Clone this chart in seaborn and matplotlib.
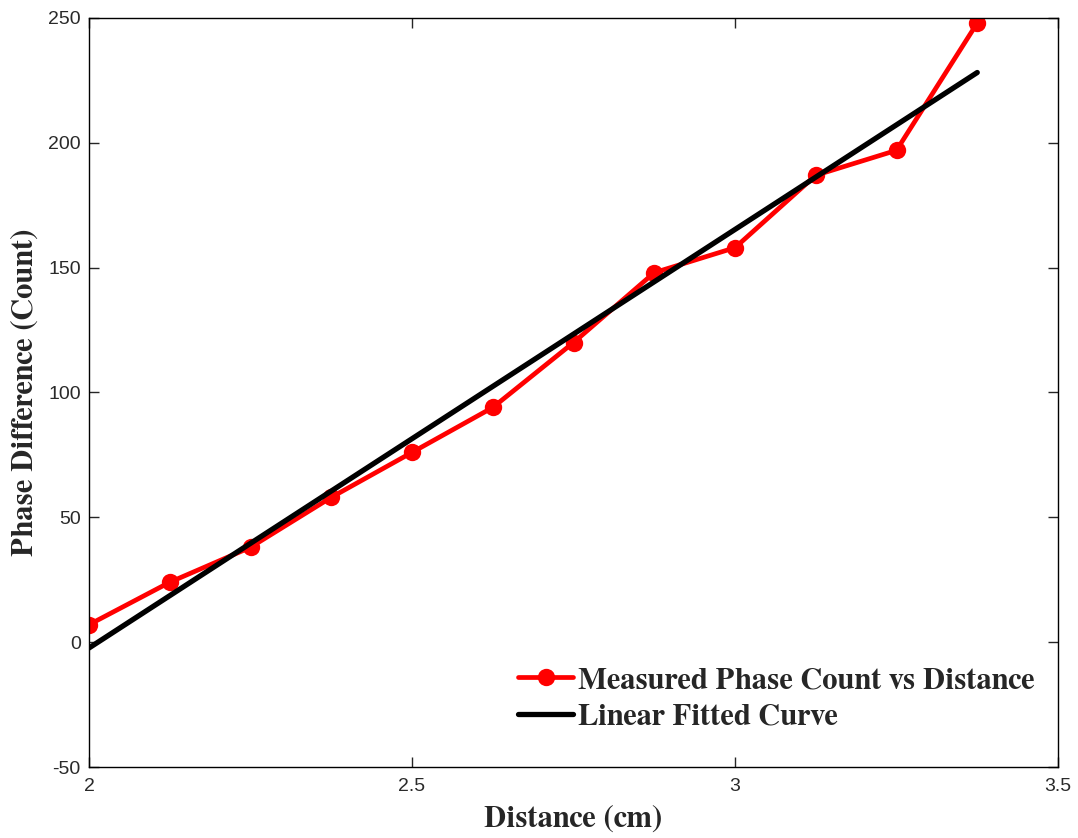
import numpy as np
import pandas as pd
import matplotlib
matplotlib.use("Agg")
import matplotlib.pyplot as plt
import seaborn as sns

distance = [2.0, 2.125, 2.25, 2.375, 2.5, 2.625, 2.75, 2.875, 3.0, 3.125, 3.25, 3.375]
phase_count = [7, 24, 38, 58, 76, 94, 120, 148, 158, 187, 197, 248]
x_ticks = [2, 2.5, 3, 3.5]
y_ticks = [-50, 0, 50, 100, 150, 200, 250]
x_tick_labels = ["2", "2.5", "3", "3.5"]
y_tick_labels = ["-50", "0", "50", "100", "150", "200", "250"]

sns.set_theme(style="ticks")
plt.rcParams.update({
    "xtick.direction": "in", "ytick.direction": "in",
    "xtick.top": True, "ytick.right": True,
    "xtick.major.size": 7, "ytick.major.size": 7,
    "xtick.major.width": 1, "ytick.major.width": 1,
    "axes.linewidth": 1.0,
})

df = pd.DataFrame({"Distance": distance, "Phase": phase_count})
coef = np.polyfit(distance, phase_count, 1)
df["Fit"] = np.polyval(coef, df["Distance"])

fig = plt.figure(figsize=(10.78, 8.38), dpi=100)
ax = fig.add_axes([89/1078, 1-767/838, (1058-89)/1078, (767-18)/838])

sns.lineplot(data=df, x="Distance", y="Phase", ax=ax, color="#ff0000", lw=3.4,
             marker="o", markersize=12.5, markeredgewidth=0,
             label="Measured Phase Count vs Distance")
sns.lineplot(data=df, x="Distance", y="Fit", ax=ax, color="black", lw=3.8,
             label="Linear Fitted Curve")

ax.set_xlim(2, 3.5)
ax.set_ylim(-50, 250)
ax.set_xticks(x_ticks)
ax.set_xticklabels(x_tick_labels)
ax.set_yticks(y_ticks)
ax.set_yticklabels(y_tick_labels)
for lab in ax.get_xticklabels() + ax.get_yticklabels():
    lab.set_fontfamily(["Liberation Sans", "DejaVu Sans"])
    lab.set_fontsize(14)
    lab.set_color("#2a2a2a")
ax.tick_params(axis="x", pad=8)
ax.tick_params(axis="y", pad=6)
for s in ax.spines.values():
    s.set_color("black")

lf = {"family": ["FreeSerif", "DejaVu Serif"], "weight": "bold", "size": 22}
ax.set_xlabel("Distance (cm)", fontdict=lf, labelpad=7)
ax.set_ylabel("Phase Difference (Count)", fontdict=lf, labelpad=7)

leg = ax.legend(loc="lower right", frameon=False, prop=lf, handlelength=1.8,
                handletextpad=0.15, labelspacing=0.3, borderaxespad=0.3,
                bbox_to_anchor=(0.998, 0.02))

fig.savefig("out.png", dpi=100, facecolor="white")
